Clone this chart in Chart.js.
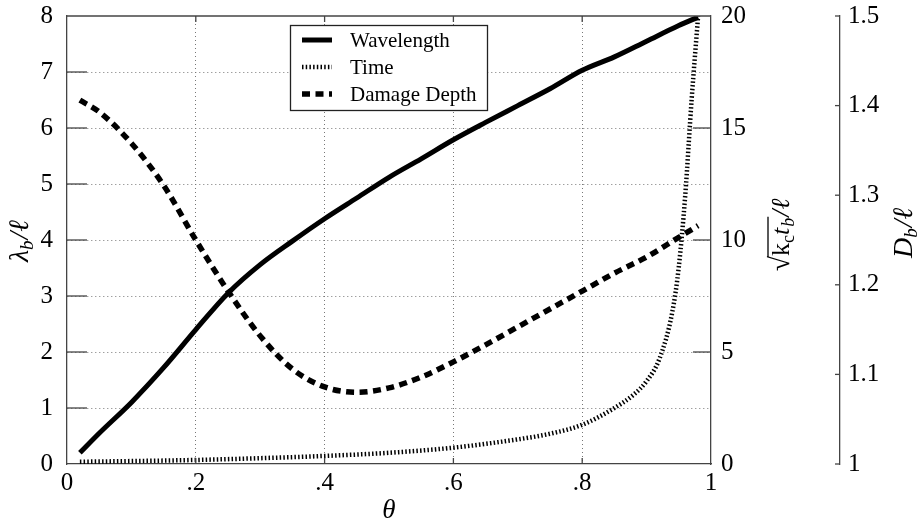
<!DOCTYPE html>
<html>
<head>
<meta charset="utf-8">
<script src="https://cdn.jsdelivr.net/npm/chart.js@4/dist/chart.umd.min.js"></script>
<style>
  body { margin: 0; background: #fff; }
  #grafico { display: block; }
</style>
</head>
<body>
<canvas id="grafico" width="920" height="521"></canvas>
<script>
// valores
const thetaWave = [0.02, 0.05, 0.1, 0.15, 0.2, 0.25, 0.3, 0.35, 0.4, 0.45, 0.5, 0.55, 0.6, 0.65, 0.7, 0.75, 0.8, 0.85, 0.9, 0.95, 0.98];
const wavelength = [0.2, 0.55, 1.1, 1.72, 2.4, 3.05, 3.56, 3.98, 4.38, 4.75, 5.12, 5.45, 5.79, 6.1, 6.4, 6.7, 7.03, 7.27, 7.55, 7.83, 7.98];

const thetaTime = [0.02, 0.1, 0.2, 0.3, 0.4, 0.5, 0.6, 0.7, 0.75, 0.8, 0.85, 0.88, 0.9, 0.92, 0.94, 0.95, 0.96, 0.97, 0.98];
const timeVals = [0.1, 0.13, 0.18, 0.26, 0.36, 0.5, 0.73, 1.1, 1.35, 1.75, 2.5, 3.1, 3.7, 4.7, 6.8, 8.8, 12.0, 16.3, 20];

const thetaDepth = [0.02, 0.05, 0.1, 0.15, 0.2, 0.25, 0.3, 0.35, 0.4, 0.45, 0.5, 0.55, 0.6, 0.65, 0.7, 0.75, 0.8, 0.85, 0.9, 0.95, 0.98];
const damageDepth = [1.406, 1.393, 1.358, 1.311, 1.25, 1.193, 1.143, 1.106, 1.086, 1.08, 1.085, 1.097, 1.114, 1.133, 1.153, 1.173, 1.193, 1.213, 1.231, 1.253, 1.266];

const xTicks = [0, 0.2, 0.4, 0.6, 0.8, 1];
const xTickLabels = ['0', '.2', '.4', '.6', '.8', '1'];
const seriesNames = ['Wavelength', 'Time', 'Damage Depth'];

const SERIF = "'Liberation Serif', 'DejaVu Serif', serif";
const AXIS_COLOR = '#444';
const GRID_COLOR = '#777';

function pares(xs, ys) {
    return xs.map((x, i) => ({ x: x, y: ys[i] }));
}

function linea(ctx, x1, y1, x2, y2) {
    ctx.beginPath();
    ctx.moveTo(x1, y1);
    ctx.lineTo(x2, y2);
    ctx.stroke();
}

// texto con partes (subindices, cursiva), centrado y opcionalmente rotado
function textoCompuesto(ctx, cx, cy, partes, rotado) {
    ctx.save();
    ctx.translate(cx, cy);
    if (rotado) ctx.rotate(-Math.PI / 2);
    ctx.textBaseline = 'alphabetic';
    ctx.textAlign = 'left';
    let total = 0;
    partes.forEach(p => {
        ctx.font = p.font;
        p.w = ctx.measureText(p.text).width;
        total += p.w + (p.gap || 0);
    });
    let x = -total / 2;
    const base = 7;
    partes.forEach(p => {
        ctx.font = p.font;
        ctx.fillStyle = '#000';
        p.x0 = x;
        ctx.fillText(p.text, x, base + (p.dy || 0));
        x += p.w + (p.gap || 0);
        p.x1 = x;
    });
    ctx.restore();
    return partes;
}

function sinPadding(s) {
    s.paddingTop = 0;
    s.paddingBottom = 0;
    s.paddingLeft = 0;
    s.paddingRight = 0;
}

const extras = {
    id: 'extras',
    afterDraw(chart) {
        const ctx = chart.ctx;
        const a = chart.chartArea;
        const sx = chart.scales.x;
        const sy = chart.scales.y;
        const st = chart.scales.yTime;
        const sd = chart.scales.yDepth;

        ctx.save();
        ctx.strokeStyle = AXIS_COLOR;
        ctx.lineWidth = 1.3;
        // borde superior
        linea(ctx, a.left, a.top, a.right, a.top);

        // marcas de los ejes
        for (let v = 1; v < 8; v++) {
            const y = sy.getPixelForValue(v);
            linea(ctx, a.left, y, a.left + 20, y);
        }
        [5, 10, 15].forEach(v => {
            const y = st.getPixelForValue(v);
            linea(ctx, a.right, y, a.right - 18, y);
        });
        [0.2, 0.4, 0.6, 0.8].forEach(v => {
            const x = sx.getPixelForValue(v);
            linea(ctx, x, a.bottom, x, a.bottom - 6);
            linea(ctx, x, a.top, x, a.top + 6);
        });
        for (let i = 0; i <= 5; i++) {
            const y = sd.getPixelForValue(1 + i / 10);
            linea(ctx, sd.left, y, sd.left - 5, y);
        }
        ctx.restore();

        // titulos de los ejes
        const it = 'italic 28px ' + SERIF;
        const sub = 'italic 19px ' + SERIF;
        textoCompuesto(ctx, 21, 241, [
            { text: 'λ', font: it },
            { text: 'b', font: sub, dy: 5, gap: 1 },
            { text: '/ℓ', font: it }
        ], true);

        const it2 = 'italic 26px ' + SERIF;
        const partes = textoCompuesto(ctx, 782, 235, [
            { text: '√', font: '28px ' + SERIF },
            { text: 'k', font: '26px ' + SERIF },
            { text: 'c', font: '18px ' + SERIF, dy: 5 },
            { text: 't', font: it2, gap: 1 },
            { text: 'b', font: 'italic 18px ' + SERIF, dy: 5, gap: 1 },
            { text: '/ℓ', font: it2 }
        ], true);
        // raya de la raiz
        ctx.save();
        ctx.translate(782, 235);
        ctx.rotate(-Math.PI / 2);
        ctx.strokeStyle = '#000';
        ctx.lineWidth = 1.3;
        linea(ctx, partes[0].x1 - 1, 7 - 21, partes[4].x1, 7 - 21);
        ctx.restore();

        textoCompuesto(ctx, 905, 233, [
            { text: 'D', font: it },
            { text: 'b', font: sub, dy: 5, gap: 1 },
            { text: '/ℓ', font: it }
        ], true);

        textoCompuesto(ctx, 389, 511, [{ text: 'θ', font: 'italic 27px ' + SERIF }], false);

        // leyenda
        ctx.save();
        ctx.fillStyle = '#fff';
        ctx.fillRect(290.5, 25.5, 197, 85);
        ctx.strokeStyle = '#222';
        ctx.lineWidth = 1.3;
        ctx.strokeRect(290.5, 25.5, 197, 85);
        const estilos = chart.data.datasets;
        const filas = [40, 67, 94];
        filas.forEach((y, i) => {
            const ds = estilos[i];
            ctx.strokeStyle = '#000';
            ctx.lineWidth = ds.borderWidth;
            ctx.setLineDash(ds.borderDash || []);
            linea(ctx, 302, y, 332, y);
            ctx.setLineDash([]);
            ctx.fillStyle = '#000';
            ctx.font = '21px ' + SERIF;
            ctx.textBaseline = 'middle';
            ctx.fillText(seriesNames[i], 350, y + 1);
        });
        ctx.restore();
    }
};

function gridSinBordes(extremos) {
    return ctx => {
        if (!ctx.tick) return GRID_COLOR;
        return extremos.includes(ctx.tick.value) ? 'rgba(0,0,0,0)' : GRID_COLOR;
    };
}

const fuenteTicks = { family: SERIF, size: 25 };

new Chart(document.getElementById('grafico'), {
    type: 'line',
    data: {
        datasets: [{
            label: seriesNames[0],
            data: pares(thetaWave, wavelength),
            yAxisID: 'y',
            borderColor: '#000',
            borderWidth: 5,
            pointRadius: 0,
            cubicInterpolationMode: 'monotone'
        }, {
            label: seriesNames[1],
            data: pares(thetaTime, timeVals),
            yAxisID: 'yTime',
            borderColor: '#000',
            borderWidth: 4.5,
            borderDash: [1.5, 2.2],
            pointRadius: 0,
            cubicInterpolationMode: 'monotone'
        }, {
            label: seriesNames[2],
            data: pares(thetaDepth, damageDepth),
            yAxisID: 'yDepth',
            borderColor: '#000',
            borderWidth: 5.5,
            borderDash: [8, 5.5],
            pointRadius: 0,
            cubicInterpolationMode: 'monotone'
        }]
    },
    options: {
        responsive: false,
        animation: false,
        layout: { padding: { top: 16, left: 0, right: 0, bottom: 0 } },
        plugins: {
            legend: { display: false },
            tooltip: { enabled: false }
        },
        scales: {
            x: {
                type: 'linear',
                min: 0,
                max: 1,
                afterBuildTicks: s => { s.ticks = xTicks.map(v => ({ value: v })); },
                afterFit: s => { s.height = 57; sinPadding(s); },
                ticks: {
                    color: '#000',
                    font: fuenteTicks,
                    padding: 4,
                    maxRotation: 0,
                    callback: (v, i) => xTickLabels[i]
                },
                grid: { color: gridSinBordes([0, 1]), drawTicks: false, lineWidth: 1 },
                border: { display: true, color: AXIS_COLOR, width: 1.3, dash: [1, 3] }
            },
            y: {
                position: 'left',
                min: 0,
                max: 8,
                afterFit: s => { s.width = 67; sinPadding(s); },
                ticks: { stepSize: 1, color: '#000', font: fuenteTicks, padding: 14 },
                grid: { color: gridSinBordes([0, 8]), drawTicks: false, lineWidth: 1 },
                border: { display: true, color: AXIS_COLOR, width: 1.3, dash: [1, 3] }
            },
            yTime: {
                position: 'right',
                min: 0,
                max: 20,
                afterFit: s => { s.width = 129; sinPadding(s); },
                ticks: { stepSize: 5, color: '#000', font: fuenteTicks, padding: 10 },
                grid: { display: false, drawTicks: false },
                border: { display: true, color: AXIS_COLOR, width: 1.3 }
            },
            yDepth: {
                position: 'right',
                min: 1,
                max: 1.5,
                afterFit: s => { s.width = 80; sinPadding(s); },
                ticks: {
                    stepSize: 0.1,
                    color: '#000',
                    font: fuenteTicks,
                    padding: 8,
                    callback: v => (Math.abs(v - 1) < 1e-9 ? '1' : v.toFixed(1))
                },
                grid: { display: false, drawTicks: false },
                border: { display: true, color: AXIS_COLOR, width: 1.3 }
            }
        }
    },
    plugins: [extras]
});
</script>
</body>
</html>
